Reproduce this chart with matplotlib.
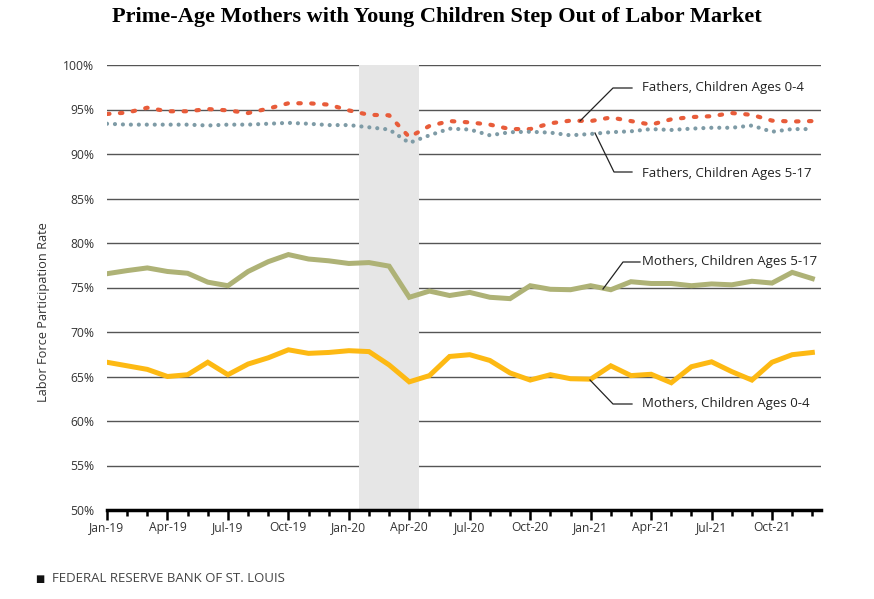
import matplotlib.pyplot as plt
import numpy as np

months = ['Jan-19', 'Feb-19', 'Mar-19', 'Apr-19', 'May-19', 'Jun-19', 'Jul-19', 'Aug-19', 'Sep-19', 'Oct-19', 'Nov-19', 'Dec-19',
          'Jan-20', 'Feb-20', 'Mar-20', 'Apr-20', 'May-20', 'Jun-20', 'Jul-20', 'Aug-20', 'Sep-20', 'Oct-20', 'Nov-20', 'Dec-20',
          'Jan-21', 'Feb-21', 'Mar-21', 'Apr-21', 'May-21', 'Jun-21', 'Jul-21', 'Aug-21', 'Sep-21', 'Oct-21', 'Nov-21', 'Dec-21']

fathers_0_4 = [94.5, 94.65, 95.2, 94.8, 94.8, 95.05, 94.9, 94.6, 95.1, 95.7, 95.7, 95.55,
               94.9, 94.4, 94.35, 91.9, 93.15, 93.7, 93.55, 93.3, 92.8, 92.8, 93.45, 93.75,
               93.7, 94.1, 93.7, 93.3, 93.9, 94.15, 94.25, 94.6, 94.4, 93.75, 93.65, 93.7]
fathers_5_17 = [93.4, 93.3, 93.3, 93.3, 93.3, 93.2, 93.3, 93.3, 93.4, 93.5, 93.4, 93.25,
                93.25, 93.0, 92.75, 91.25, 92.1, 92.85, 92.75, 92.1, 92.45, 92.5, 92.4, 92.1,
                92.25, 92.45, 92.55, 92.8, 92.7, 92.85, 92.95, 92.95, 93.2, 92.5, 92.8, 92.8]
mothers_5_17 = [76.55, 76.9, 77.2, 76.8, 76.6, 75.6, 75.2, 76.8, 77.9, 78.7, 78.2, 78.0,
                77.7, 77.8, 77.4, 73.9, 74.6, 74.1, 74.45, 73.9, 73.75, 75.2, 74.8, 74.75,
                75.2, 74.75, 75.65, 75.45, 75.45, 75.2, 75.4, 75.3, 75.7, 75.5, 76.7, 76.0]
mothers_0_4 = [66.6, 66.2, 65.8, 65.0, 65.2, 66.6, 65.2, 66.4, 67.1, 68.0, 67.6, 67.7,
               67.9, 67.8, 66.3, 64.4, 65.1, 67.25, 67.45, 66.8, 65.4, 64.6, 65.2, 64.75,
               64.7, 66.2, 65.1, 65.25, 64.3, 66.1, 66.65, 65.55, 64.6, 66.6, 67.45, 67.7]

recession_start = 'Feb-20'
recession_end = 'Apr-20'

plt.rcParams['font.family'] = ['Open Sans', 'DejaVu Sans']

fig = plt.figure(figsize=(8.74, 5.99), dpi=100)
ax = fig.add_axes([107 / 874, 1 - 510 / 599, 714 / 874, 445 / 599])

x = np.arange(len(months))

# recession shading
i0 = months.index(recession_start)
i1 = months.index(recession_end)
ax.axvspan(i0 - 0.5, i1 + 0.5, color='#e6e6e6', zorder=1, lw=0)

for v in range(55, 101, 5):
    ax.axhline(v, color='#555555', lw=1.0, zorder=0.5)

ax.plot(x, mothers_0_4, color='#fdb913', lw=3.6, solid_joinstyle='miter', zorder=3)
ax.plot(x, mothers_5_17, color='#aeb276', lw=3.6, solid_joinstyle='miter', zorder=3)
ax.plot(x, fathers_0_4, color='#e85c3a', lw=3.0, dashes=(0.6, 2.5), dash_capstyle='round', zorder=3)
ax.plot(x, fathers_5_17, color='#7e9ba6', lw=3.0, dashes=(0.01, 1.9), dash_capstyle='round', zorder=3)

ax.set_xlim(0, 35.43)
ax.set_ylim(50, 100)
ax.set_yticks(range(50, 101, 5))
ax.set_yticklabels([f'{v}%' for v in range(50, 101, 5)])
ax.set_xticks(x[::3])
ax.set_xticklabels(months[::3])
ax.set_xticks(x, minor=True)

for s in ['top', 'right', 'left']:
    ax.spines[s].set_visible(False)
ax.spines['bottom'].set_linewidth(2.5)
ax.spines['bottom'].set_color('black')
ax.spines['bottom'].set_zorder(4)
ax.tick_params(axis='y', length=0, pad=9, labelsize=8.7, labelcolor='#333333')
ax.tick_params(axis='x', which='major', length=7, width=1.8, direction='out', pad=1,
               labelsize=8.7, labelcolor='#333333')
ax.tick_params(axis='x', which='minor', length=4, width=1.8, direction='out')

fig.text(44 / 874, 1 - 312 / 599, 'Labor Force Participation Rate', rotation=90,
         ha='center', va='center', fontsize=9.2, color='#333333')

# annotations with leader lines
def label(text, tx, ty, pts):
    xs = [ax.transData.inverted().transform(fig.transFigure.transform((px / 874, 1 - py / 599))) for px, py in pts]
    xs = np.array(xs)
    ax.plot(xs[:, 0], xs[:, 1], color='#222222', lw=0.9, zorder=5, clip_on=False)
    fig.text(tx / 874, 1 - ty / 599, text, ha='left', va='center', fontsize=9.5, color='#222222')

label('Fathers, Children Ages 0-4', 642, 87, [(580, 121), (613, 88), (632, 88)])
label('Fathers, Children Ages 5-17', 642, 173, [(595, 133), (614, 172), (632, 172)])
label('Mothers, Children Ages 5-17', 642, 262, [(603, 289), (623, 262), (640, 262)])
label('Mothers, Children Ages 0-4', 642, 404, [(590, 380), (613, 404), (632, 404)])

fig.text(0.5, 1 - 17 / 599, 'Prime-Age Mothers with Young Children Step Out of Labor Market',
         ha='center', va='center', fontsize=16, fontweight='bold', family='Liberation Serif')

fig.text(35 / 874, 1 - 579 / 599, '\u25a0', ha='left', va='center', fontsize=7, color='#111111',
         family='DejaVu Sans')
fig.text(52 / 874, 1 - 579 / 599, 'FEDERAL RESERVE BANK OF ST. LOUIS', ha='left', va='center',
         fontsize=9.5, color='#444444')

fig.savefig('out.png', dpi=100)
